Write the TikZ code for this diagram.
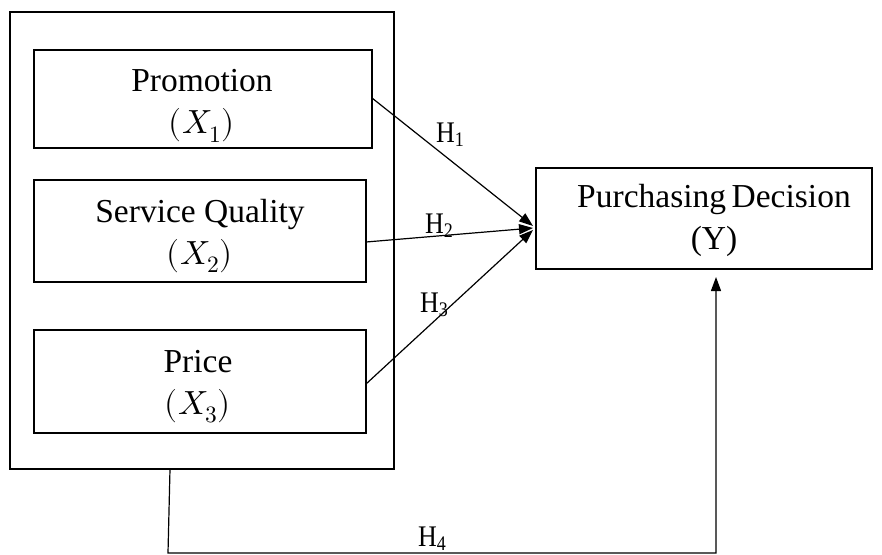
\documentclass[tikz,border=0pt]{standalone}
\usepackage{fontspec}
\usepackage{unicode-math}
\setmainfont{Liberation Serif}
\setmathfont{Latin Modern Math}
\usetikzlibrary{arrows.meta}
% hypothesis label: tall H with a lowered numeral
\newcommand{\hypname}[1]{\scalebox{1}[1.15]{\fontsize{26}{28}\selectfont H\raisebox{-4pt}{\fontsize{18}{19}\selectfont #1}}}
\begin{document}
\begin{tikzpicture}[x=1pt,y=-1pt,
  box/.style={draw,line width=1.2pt},
  lbl/.style={font=\fontsize{33.5}{42}\selectfont,align=center},
  hyp/.style={inner sep=0pt,anchor=base west},
  link/.style={line width=1.2pt,-{Triangle[length=14pt,width=10pt]}}]
\useasboundingbox (0,0) rectangle (882,554);
% outer group frame
\draw[box] (10,12) rectangle (394,469);
% independent variables
\draw[box] (34,50) rectangle (372,148);
\draw[box] (34,180) rectangle (366,282);
\draw[box] (34,330) rectangle (366,433);
\node[lbl] (x1) at (202,106) {Promotion\\$(X_1)$};
\node[lbl] (x2) at (200,236) {Service Quality\\$(X_2)$};
\node[lbl] (x3) at (198,387) {Price\\$(X_3)$};
% dependent variable
\draw[box] (536,168) rectangle (872,269);
\node[lbl] (y) at (714,220) {Purchasing\,Decision\\(Y)};
% anchor points of the connectors
\coordinate (p1) at (372,98);
\coordinate (p2) at (366,242);
\coordinate (p3) at (366,384);
\coordinate (t1) at (533,226);
\coordinate (t2) at (533,228);
\coordinate (t3) at (533,230);
\coordinate (g) at (170,469);
\coordinate (gb) at (168,553);
\coordinate (yb) at (716,553);
\coordinate (yt) at (716,277);
\draw[link] (p1) -- (t1);
\draw[link] (p2) -- (t2);
\draw[link] (p3) -- (t3);
\draw[link] (g) -- (gb) -- (yb) -- (yt);
% hypothesis labels
\node[hyp] (h1) at (436,142) {\hypname{1}};
\node[hyp] (h2) at (425,233) {\hypname{2}};
\node[hyp] (h3) at (420,312) {\hypname{3}};
\node[hyp] (h4) at (418,546) {\hypname{4}};
\end{tikzpicture}
\end{document}
